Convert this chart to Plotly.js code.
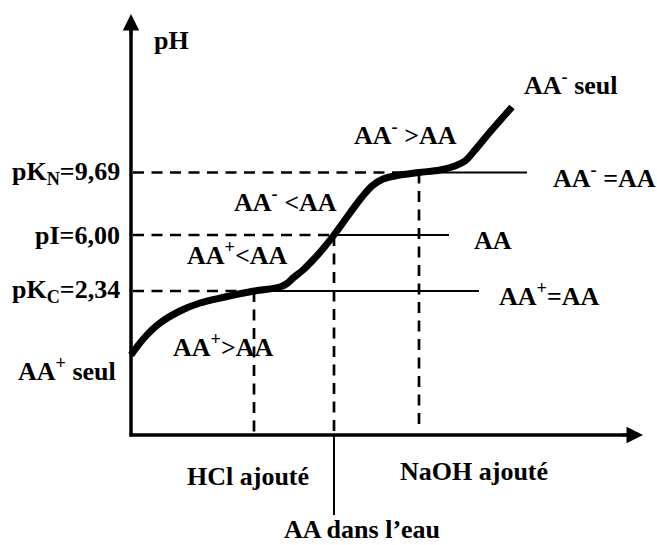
<!DOCTYPE html>
<html><head><meta charset="utf-8">
<script src="https://cdn.plot.ly/plotly-3.0.1.min.js"></script>
<style>html,body{margin:0;padding:0;background:#fff}</style>
</head><body><div id="chart" style="width:657px;height:545px"></div>
<script>
// Schematic titration curve of an amino acid (arbitrary units)
const baseAdded = [0, 1.4, 2.9, 4.9, 6.9, 9.4, 12.3, 14.9, 15.6, 16.2, 17.2, 18.2, 19.1, 20.3, 21.9, 23.1, 24.1, 25.2, 26.6, 28.8, 30.9, 32.4, 33.4, 34.4, 35.9, 38.1];
const phCurve   = [8.0, 9.8, 11.2, 12.4, 13.2, 13.8, 14.4, 14.8, 15.15, 15.7, 16.5, 17.5, 18.5, 20.0, 22.2, 23.8, 24.9, 25.6, 25.95, 26.25, 26.5, 26.9, 27.4, 28.5, 30.3, 32.8];

const levelLabels  = ['pK<sub>C</sub>=2,34', 'pI=6,00', 'pK<sub>N</sub>=9,69'];
const levelY       = [14.4, 20.0, 26.25];
const levelCrossX  = [12.3, 20.3, 28.8];
const levelLineEnd = [34.8, 31.8, 39.6];
const levelDropEnd = [0, 0, 1.0];
const levelNames   = ['AA<sup>+</sup>=AA', 'AA', 'AA<sup>-</sup> =AA'];

const xAxisEnd = 51.2, yAxisEnd = 42.1, waterLineEnd = -8.0;

const FONT = {family: 'Liberation Serif', size: 26, color: '#000'};
const B = s => '<b>' + s + '</b>';

const traces = [];
const dashStyle = {color: '#000', width: 2.7, dash: '11px,7.5px'};
const solidThin = {color: '#000', width: 2};
for (let i = 0; i < levelY.length; i++) {
  traces.push({x: [0.2, levelCrossX[i]], y: [levelY[i], levelY[i]], mode: 'lines', line: dashStyle});
  traces.push({x: [levelCrossX[i], levelLineEnd[i]], y: [levelY[i], levelY[i]], mode: 'lines', line: solidThin});
  traces.push({x: [levelCrossX[i], levelCrossX[i]], y: [levelY[i], levelDropEnd[i]], mode: 'lines', line: dashStyle});
}
// AA dans l'eau marker line
traces.push({x: [levelCrossX[1], levelCrossX[1]], y: [0, waterLineEnd], mode: 'lines', line: solidThin});
// axes
traces.push({x: [0, 0], y: [-0.15, yAxisEnd - 1], mode: 'lines', line: {color: '#000', width: 3.5}});
traces.push({x: [-0.15, xAxisEnd - 1], y: [0, 0], mode: 'lines', line: {color: '#000', width: 3.5}});
// curve
traces.push({x: baseAdded, y: phCurve, mode: 'lines', line: {color: '#000', width: 7, shape: 'spline', smoothing: 1}});

const ann = [];
function txt(t, x, y, xa, ya) {
  ann.push({text: B(t), x: x, y: y, xref: 'x', yref: 'y', showarrow: false, xanchor: xa || 'center', yanchor: ya || 'middle', font: FONT});
}
txt('pH', 2.1, 39.5, 'left');
for (let i = 0; i < levelY.length; i++) txt(levelLabels[i], -0.9, levelY[i], 'right');
txt(levelNames[0], 41.85, 14.1);
txt(levelNames[1], 36.15, 19.45);
txt(levelNames[2], 42.0, 25.9, 'left');
txt('AA<sup>-</sup> seul', 39.1, 35.15, 'left');
txt('AA<sup>-</sup> &gt;AA', 27.4, 30.15);
txt('AA<sup>-</sup> &lt;AA', 15.4, 23.5);
txt('AA<sup>+</sup>&lt;AA', 10.65, 18.15);
txt('AA<sup>+</sup>&gt;AA', 9.25, 9.0);
txt('AA<sup>+</sup> seul', -6.4, 6.55);
txt('HCl ajouté', 11.65, -4.1);
txt('NaOH ajouté', 34.3, -3.6);
ann.push({text: B('AA dans l’eau'), x: 23.05, y: -11.0, xref: 'x', yref: 'y', showarrow: false, xanchor: 'center', yanchor: 'bottom', borderpad: 0, font: FONT});

// arrow heads
ann.push({x: 0, y: yAxisEnd, xref: 'x', yref: 'y', ax: 0, ay: 22, axref: 'pixel', ayref: 'pixel', text: '', showarrow: true, arrowhead: 2, arrowsize: 1.1, arrowwidth: 3, arrowcolor: '#000'});
ann.push({x: xAxisEnd, y: 0, xref: 'x', yref: 'y', ax: -22, ay: 0, axref: 'pixel', ayref: 'pixel', text: '', showarrow: true, arrowhead: 2, arrowsize: 1.1, arrowwidth: 3, arrowcolor: '#000'});

const layout = {
  width: 657, height: 545,
  margin: {l: 0, r: 0, t: 0, b: 0},
  paper_bgcolor: '#fff', plot_bgcolor: '#fff',
  showlegend: false,
  xaxis: {visible: false, range: [-13.1, 52.6], fixedrange: true},
  yaxis: {visible: false, range: [-11.0, 43.5], fixedrange: true},
  annotations: ann
};
Plotly.newPlot('chart', traces, layout, {displayModeBar: false, staticPlot: true});
</script></body></html>
